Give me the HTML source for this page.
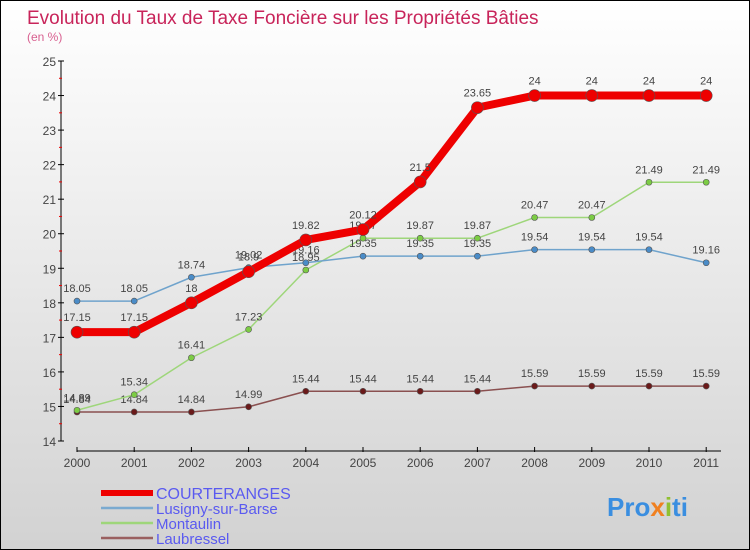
<!DOCTYPE html>
<html><head><meta charset="utf-8"><style>
body{margin:0}
#wrap{width:750px;height:550px;position:relative;box-sizing:border-box;border:1px solid #000;background:linear-gradient(#ffffff,#d2d2d2);font-family:"Liberation Sans",sans-serif;overflow:hidden}
svg text{font-family:"Liberation Sans",sans-serif}
</style></head><body>
<div id="wrap">
<svg id="c" width="750" height="550">
<text x="26" y="23" font-size="19" fill="#c8245a">Evolution du Taux de Taxe Foncière sur les Propriétés Bâties</text>
<text x="26" y="40" font-size="12" fill="#d86090">(en %)</text>
<text x="606" y="515" font-size="26" font-weight="bold" fill="#3a8ee0">Pro<tspan fill="#f08020">x</tspan><tspan fill="#90c030">i</tspan>ti</text>
</svg>
</div>
<script>
const years=["2000","2001","2002","2003","2004","2005","2006","2007","2008","2009","2010","2011"];
const yTicks=[14,15,16,17,18,19,20,21,22,23,24,25];
const courteranges=[17.15,17.15,18,18.9,19.82,20.12,21.5,23.65,24,24,24,24];
const lusigny=[18.05,18.05,18.74,19.02,19.16,19.35,19.35,19.35,19.54,19.54,19.54,19.16];
const montaulin=[14.89,15.34,16.41,17.23,18.95,19.87,19.87,19.87,20.47,20.47,21.49,21.49];
const laubressel=[14.84,14.84,14.84,14.99,15.44,15.44,15.44,15.44,15.59,15.59,15.59,15.59];
const seriesNames=["COURTERANGES","Lusigny-sur-Barse","Montaulin","Laubressel"];

const svg=document.getElementById('c');
const NS="http://www.w3.org/2000/svg";
const x=i=>76+i*57.2;
const y=v=>440-(v-14)*(380/11);
function mk(t,a,p){const e=document.createElementNS(NS,t);for(const k in a)e.setAttribute(k,a[k]);(p||svg).appendChild(e);return e;}

// axes
let ax=mk('line',{x1:60,y1:y(25),x2:60,y2:440,stroke:'#000'});


let xa=mk('line',{x1:76,y1:450,x2:720,y2:450,stroke:'#000'});


yTicks.forEach(v=>{
  mk('line',{x1:57,y1:y(v),x2:63,y2:y(v),stroke:'#000'});
  if(v<25)mk('line',{x1:58,y1:y(v+0.5),x2:61,y2:y(v+0.5),stroke:'#e00'});
  const t=mk('text',{x:55,y:y(v)+5,'font-size':12,fill:'#444','text-anchor':'end'});
  t.textContent=v;
  
  
});
years.forEach((yr,i)=>{
  mk('line',{x1:x(i),y1:446,x2:x(i),y2:451,stroke:'#000'});
  const t=mk('text',{x:x(i),y:466,'font-size':12,fill:'#444','text-anchor':'middle'});
  t.textContent=yr;
  
  
});

function draw(data,color,w,r,dot,name,lblOff){
  const g=mk('g',{});
  
  
  mk('polyline',{points:data.map((v,i)=>x(i)+','+y(v)).join(' '),fill:'none',stroke:color,'stroke-width':w,'stroke-linejoin':'round'},g);
  data.forEach((v,i)=>{
    const c=mk('circle',{cx:x(i),cy:y(v),r:r,fill:dot,stroke:'#555','stroke-width':0.6},g);
    
    
    const t=mk('text',{x:x(i),y:y(v)+lblOff,'font-size':11,fill:'#444','text-anchor':'middle'},g);
    t.textContent=v;
    
    
  });
}
draw(laubressel,'#8a5050',1.5,3,'#6b1a1a','laubressel',-9);
draw(montaulin,'#9ed67a',1.5,3,'#7ccc44','montaulin',-9);
draw(lusigny,'#6fa3cc',1.5,3,'#4a8cc8','lusigny',-9);
draw(courteranges,'#ee0000',8,6,'#ee0000','courteranges',-11);

const cols=['#ee0000','#7aaad0','#9ed67a','#9a6060'];
seriesNames.forEach((n,i)=>{
  const yy=492+i*15;
  mk('line',{x1:100,y1:yy,x2:152,y2:yy,stroke:cols[i],'stroke-width':i==0?6:2.5});
  const t=mk('text',{x:155,y:yy+6,'font-size':i==0?16:15,fill:'#5a5af0'});
  t.textContent=n;
  
  
});
</script>
</body></html>
